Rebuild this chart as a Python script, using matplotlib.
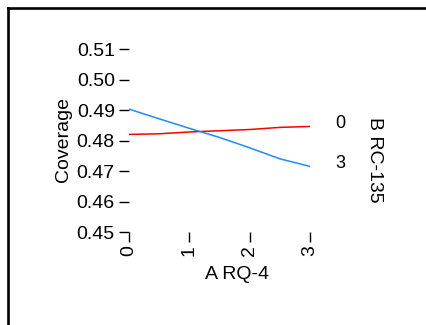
import matplotlib
matplotlib.use("Agg")
import matplotlib.pyplot as plt
from matplotlib.lines import Line2D

plt.rcParams['font.family'] = ['Liberation Sans', 'DejaVu Sans']

# data
x_vals = [0, 0.5, 1, 1.5, 2, 2.5, 3]
series_names = ["0", "3"]
cov_0 = [0.4820, 0.4822, 0.4828, 0.4832, 0.4836, 0.4843, 0.4846]
cov_3 = [0.4903, 0.4871, 0.4840, 0.4810, 0.4776, 0.4740, 0.4715]
x_ticks = [0, 1, 2, 3]
y_ticks = [0.45, 0.46, 0.47, 0.48, 0.49, 0.50, 0.51]
x_label = "A RQ-4"
y_label = "Coverage"
legend_title = "B RC-135"
colors = ["#ff0000", "#1a8cff"]

W, H = 427, 325
fig = plt.figure(figsize=(W / 100, H / 100), dpi=100)
fig.patch.set_facecolor("white")

L, R, T, B = 129, 310, 49, 232
ax = fig.add_axes([L / W, 1 - B / H, (R - L) / W, (B - T) / H])
ax.set_facecolor("none")
for s in ax.spines.values():
    s.set_visible(False)

for vals, c in zip([cov_0, cov_3], colors):
    ax.plot(x_vals, vals, color=c, lw=1.1, solid_capstyle="butt")

ax.set_xlim(0, 3)
ax.set_ylim(0.45, 0.51)
ax.set_xticks(x_ticks)
ax.set_xticklabels([str(t) for t in x_ticks], rotation=90)
ax.set_yticks(y_ticks)
ax.set_yticklabels([f"{t:.2f}" for t in y_ticks])
ax.tick_params(axis="both", length=7.2, width=1.0, color="black",
               labelsize=14, labelcolor="black")
ax.tick_params(axis="y", pad=3)
ax.tick_params(axis="x", pad=2)
for lab in ax.get_xticklabels():
    lab.set_va("top")
    lab.set_ha("center")

# direct labels at line ends
for vals, name in zip([cov_0, cov_3], series_names):
    ax.annotate(name, xy=(x_vals[-1], vals[-1]), xycoords="data",
                xytext=(21.6, -0.8), textcoords="offset points",
                ha="center", va="baseline", fontsize=13, color="black",
                annotation_clip=False)

fig.text(375 / W, 1 - 160 / H, legend_title, rotation=-90, ha="center",
         va="center", fontsize=14)
fig.text(237 / W, 1 - 279 / H, x_label, ha="center", va="baseline", fontsize=14)
fig.text(63.5 / W, 1 - 139 / H, y_label, rotation=90, ha="center",
         va="center", fontsize=14)

# partial outer frame
fx = 8 / W
fy = 1 - 8 / H
fig.add_artist(Line2D([fx, fx], [-0.05, fy], transform=fig.transFigure,
                      color="black", lw=1.9, solid_capstyle="projecting"))
fig.add_artist(Line2D([fx, 1.05], [fy, fy], transform=fig.transFigure,
                      color="black", lw=1.9, solid_capstyle="projecting"))

fig.savefig("out.png", dpi=100, facecolor="white")
